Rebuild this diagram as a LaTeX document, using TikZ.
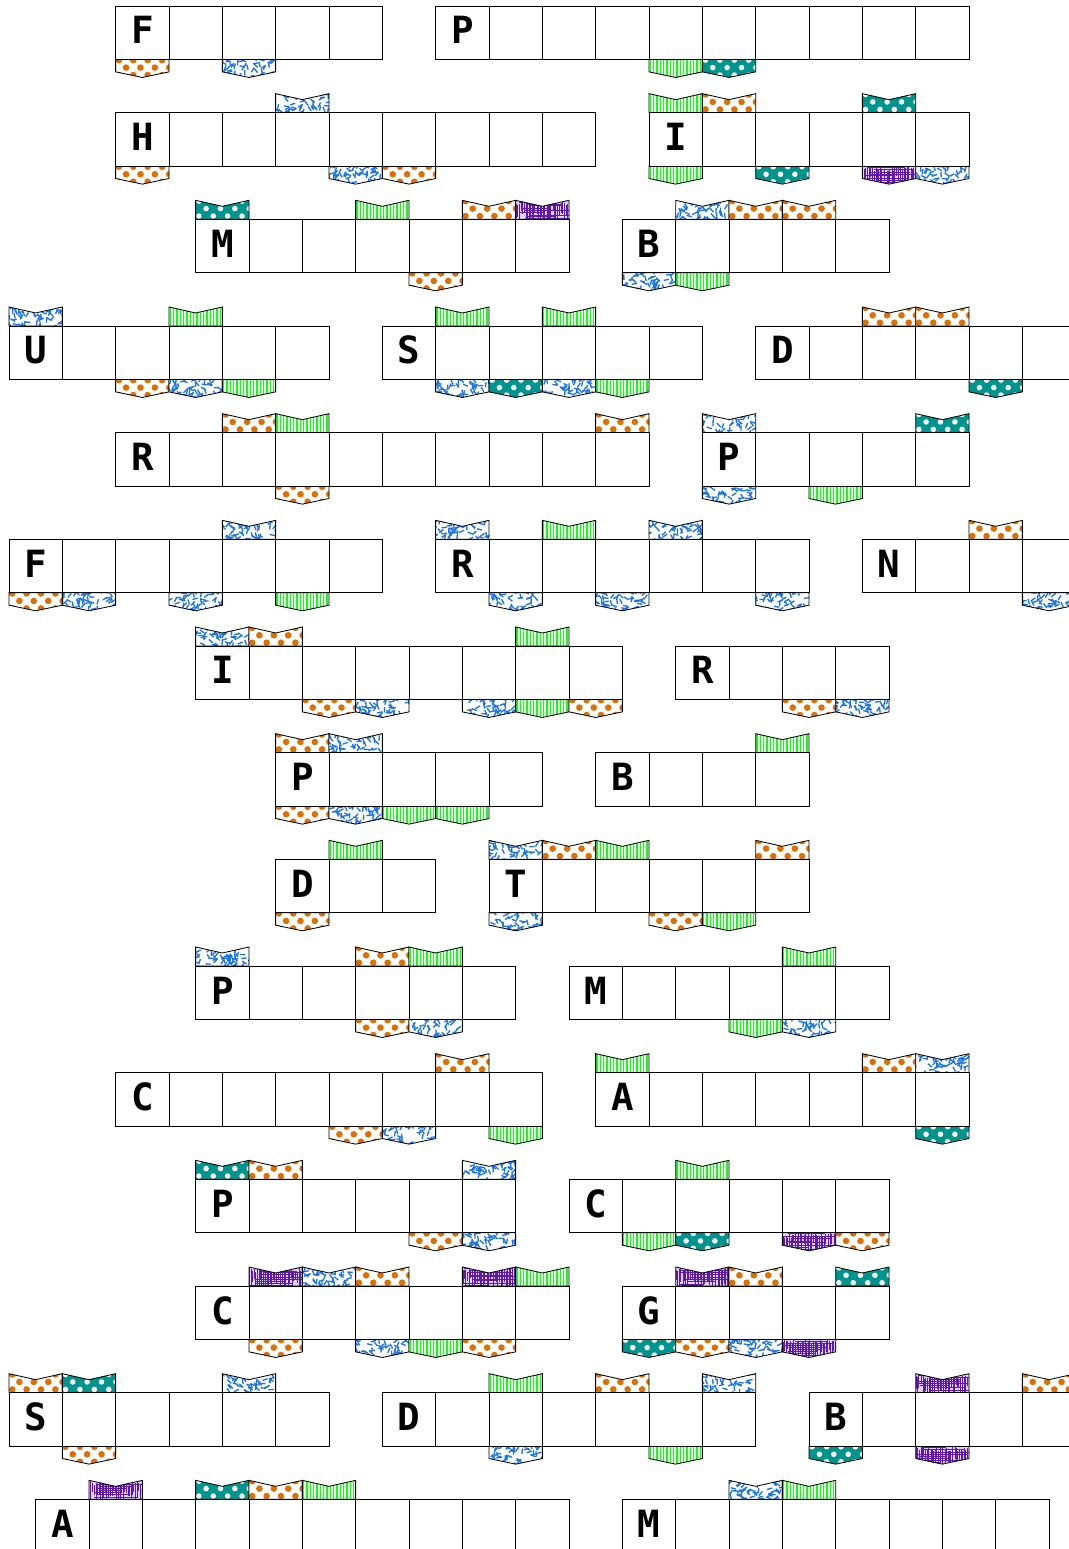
\documentclass[tikz,border=0pt]{standalone}
\usepackage{fontspec}
\newfontfamily\lettfont{DejaVu Sans Mono}
\definecolor{cOrange}{RGB}{222,112,0}
\definecolor{cTeal}{RGB}{0,148,142}
\definecolor{cGreen}{RGB}{40,240,40}
\definecolor{cGreenLt}{RGB}{225,255,225}
\definecolor{cBlue}{RGB}{25,115,230}
\definecolor{cPurple}{RGB}{95,25,170}
\definecolor{cPurpleLt}{RGB}{225,210,245}

\newcommand\patDots[2]{\foreach \j in {0,...,3}{\foreach \i in {0,...,4}{\fill[#1] ([shift={({0.06+\i*0.27+mod(\j,2)*0.135},{-0.015-\j*0.14})}]path picture bounding box.north west) circle (#2);}}}
\newcommand\patBlue{\foreach \i in {1,...,60}{\pgfmathsetmacro\ax{rnd*1.05-0.05}\pgfmathsetmacro\ay{rnd*0.4}\pgfmathsetmacro\aa{rnd*180}\draw[cBlue,line width=0.7pt] ([shift={(\ax,-\ay)}]path picture bounding box.north west) -- ++(\aa:0.1);}}
\newcommand\patPurple{\foreach \i in {0,...,34}{\pgfmathsetmacro\ax{\i*0.03+rnd*0.02}\pgfmathsetmacro\ay{rnd*0.1}\pgfmathsetmacro\al{0.15+rnd*0.3}\draw[cPurple,line width=0.5pt] ([shift={(\ax,-\ay)}]path picture bounding box.north west) -- ++(0,-\al);}%
 \foreach \i in {0,...,9}{\pgfmathsetmacro\ay{0.02+\i*0.04+rnd*0.02}\pgfmathsetmacro\ax{rnd*0.3}\pgfmathsetmacro\al{0.4+rnd*0.6}\draw[cPurple,line width=0.5pt] ([shift={(\ax,-\ay)}]path picture bounding box.north west) -- ++(\al,0);}}
\newcommand\patGreen{\foreach \i in {0,...,16}{\draw[cGreen,line width=0.85pt] ([shift={({0.025+\i*0.0625},0)}]path picture bounding box.north west) -- ++(0,-0.4);}}

\tikzset{
 cell/.style={draw=black, line width=0.5pt, fill=white},
 lett/.style={inner sep=0pt, anchor=base, font=\lettfont\bfseries\fontsize{20}{24}\selectfont},
 flap/.style={draw=black, line width=0.45pt, line join=miter},
 pOrange/.style={fill=white, path picture={\patDots{cOrange}{0.062}}},
 pTeal/.style={fill=cTeal, path picture={\patDots{white}{0.052}}},
 pBlue/.style={fill=white, path picture={\patBlue}},
 pPurple/.style={fill=cPurpleLt, path picture={\patPurple}},
 pGreen/.style={fill=cGreenLt, path picture={\patGreen}},
}

\newcommand\stripcells[5]{%
 \pgfmathsetmacro\sy{-0.1125-2*#1}%
 \foreach \c in {1,...,#3}{\draw[cell] ({#2+\c-1},\sy) rectangle ++(1,-1);}%
 \node[lett] (#5) at ({#2+0.5},{\sy-0.7125}) {#4};}
\newcommand\flapT[3]{%
 \pgfmathsetmacro\sy{-0.1125-2*#1}%
 \draw[flap,#3] (#2,\sy) -- ++(0,0.356) -- ++(0.5,-0.112) -- ++(0.5,0.112) -- ++(0,-0.356) -- cycle;}
\newcommand\flapB[3]{%
 \pgfmathsetmacro\sy{-1.1125-2*#1}%
 \draw[flap,#3] (#2,\sy) -- ++(0,-0.235) -- ++(0.5,-0.105) -- ++(0.5,0.105) -- ++(0,0.235) -- cycle;}

\begin{document}
\begin{tikzpicture}
\useasboundingbox (-0.16875,-29.044) rectangle (19.875,0);
\fill[white] (-0.16875,-29.044) rectangle (19.875,0);
\clip (-0.16875,-29.044) rectangle (19.875,0);
\pgfmathsetseed{7}

% row 0
\flapB{0}{2}{pOrange}\flapB{0}{4}{pBlue}
\stripcells{0}{2}{5}{F}{L0a}
\flapB{0}{12}{pGreen}\flapB{0}{13}{pTeal}
\stripcells{0}{8}{10}{P}{L0b}
% row 1
\flapT{1}{5}{pBlue}\flapB{1}{2}{pOrange}\flapB{1}{6}{pBlue}\flapB{1}{7}{pOrange}
\stripcells{1}{2}{9}{H}{L1a}
\flapT{1}{12}{pGreen}\flapT{1}{13}{pOrange}\flapT{1}{16}{pTeal}
\flapB{1}{12}{pGreen}\flapB{1}{14}{pTeal}\flapB{1}{16}{pPurple}\flapB{1}{17}{pBlue}
\stripcells{1}{12}{6}{I}{L1b}
% row 2
\flapT{2}{3.5}{pTeal}\flapT{2}{6.5}{pGreen}\flapT{2}{8.5}{pOrange}\flapT{2}{9.5}{pPurple}\flapB{2}{7.5}{pOrange}
\stripcells{2}{3.5}{7}{M}{L2a}
\flapT{2}{12.5}{pBlue}\flapT{2}{13.5}{pOrange}\flapT{2}{14.5}{pOrange}\flapB{2}{11.5}{pBlue}\flapB{2}{12.5}{pGreen}
\stripcells{2}{11.5}{5}{B}{L2b}
% row 3
\flapT{3}{0}{pBlue}\flapT{3}{3}{pGreen}\flapB{3}{2}{pOrange}\flapB{3}{3}{pBlue}\flapB{3}{4}{pGreen}
\stripcells{3}{0}{6}{U}{L3a}
\flapT{3}{8}{pGreen}\flapT{3}{10}{pGreen}\flapB{3}{8}{pBlue}\flapB{3}{9}{pTeal}\flapB{3}{10}{pBlue}\flapB{3}{11}{pGreen}
\stripcells{3}{7}{6}{S}{L3b}
\flapT{3}{16}{pOrange}\flapT{3}{17}{pOrange}\flapB{3}{18}{pTeal}
\stripcells{3}{14}{6}{D}{L3c}
% row 4
\flapT{4}{4}{pOrange}\flapT{4}{5}{pGreen}\flapT{4}{11}{pOrange}\flapB{4}{5}{pOrange}
\stripcells{4}{2}{10}{R}{L4a}
\flapT{4}{13}{pBlue}\flapT{4}{17}{pTeal}\flapB{4}{13}{pBlue}\flapB{4}{15}{pGreen}
\stripcells{4}{13}{5}{P}{L4b}
% row 5
\flapT{5}{4}{pBlue}\flapB{5}{0}{pOrange}\flapB{5}{1}{pBlue}\flapB{5}{3}{pBlue}\flapB{5}{5}{pGreen}
\stripcells{5}{0}{7}{F}{L5a}
\flapT{5}{8}{pBlue}\flapT{5}{10}{pGreen}\flapT{5}{12}{pBlue}\flapB{5}{9}{pBlue}\flapB{5}{11}{pBlue}\flapB{5}{14}{pBlue}
\stripcells{5}{8}{7}{R}{L5b}
\flapT{5}{18}{pOrange}\flapB{5}{19}{pBlue}
\stripcells{5}{16}{4}{N}{L5c}
% row 6
\flapT{6}{3.5}{pBlue}\flapT{6}{4.5}{pOrange}\flapT{6}{9.5}{pGreen}
\flapB{6}{5.5}{pOrange}\flapB{6}{6.5}{pBlue}\flapB{6}{8.5}{pBlue}\flapB{6}{9.5}{pGreen}\flapB{6}{10.5}{pOrange}
\stripcells{6}{3.5}{8}{I}{L6a}
\flapB{6}{14.5}{pOrange}\flapB{6}{15.5}{pBlue}
\stripcells{6}{12.5}{4}{R}{L6b}
% row 7
\flapT{7}{5}{pOrange}\flapT{7}{6}{pBlue}\flapB{7}{5}{pOrange}\flapB{7}{6}{pBlue}\flapB{7}{7}{pGreen}\flapB{7}{8}{pGreen}
\stripcells{7}{5}{5}{P}{L7a}
\flapT{7}{14}{pGreen}
\stripcells{7}{11}{4}{B}{L7b}
% row 8
\flapT{8}{6}{pGreen}\flapB{8}{5}{pOrange}
\stripcells{8}{5}{3}{D}{L8a}
\flapT{8}{9}{pBlue}\flapT{8}{10}{pOrange}\flapT{8}{11}{pGreen}\flapT{8}{14}{pOrange}
\flapB{8}{9}{pBlue}\flapB{8}{12}{pOrange}\flapB{8}{13}{pGreen}
\stripcells{8}{9}{6}{T}{L8b}
% row 9
\flapT{9}{3.5}{pBlue}\flapT{9}{6.5}{pOrange}\flapT{9}{7.5}{pGreen}\flapB{9}{6.5}{pOrange}\flapB{9}{7.5}{pBlue}
\stripcells{9}{3.5}{6}{P}{L9a}
\flapT{9}{14.5}{pGreen}\flapB{9}{13.5}{pGreen}\flapB{9}{14.5}{pBlue}
\stripcells{9}{10.5}{6}{M}{L9b}
% row 10
\flapT{10}{8}{pOrange}\flapB{10}{6}{pOrange}\flapB{10}{7}{pBlue}\flapB{10}{9}{pGreen}
\stripcells{10}{2}{8}{C}{L10a}
\flapT{10}{11}{pGreen}\flapT{10}{16}{pOrange}\flapT{10}{17}{pBlue}\flapB{10}{17}{pTeal}
\stripcells{10}{11}{7}{A}{L10b}
% row 11
\flapT{11}{3.5}{pTeal}\flapT{11}{4.5}{pOrange}\flapT{11}{8.5}{pBlue}\flapB{11}{7.5}{pOrange}\flapB{11}{8.5}{pBlue}
\stripcells{11}{3.5}{6}{P}{L11a}
\flapT{11}{12.5}{pGreen}\flapB{11}{11.5}{pGreen}\flapB{11}{12.5}{pTeal}\flapB{11}{14.5}{pPurple}\flapB{11}{15.5}{pOrange}
\stripcells{11}{10.5}{6}{C}{L11b}
% row 12
\flapT{12}{4.5}{pPurple}\flapT{12}{5.5}{pBlue}\flapT{12}{6.5}{pOrange}\flapT{12}{8.5}{pPurple}\flapT{12}{9.5}{pGreen}
\flapB{12}{4.5}{pOrange}\flapB{12}{6.5}{pBlue}\flapB{12}{7.5}{pGreen}\flapB{12}{8.5}{pOrange}
\stripcells{12}{3.5}{7}{C}{L12a}
\flapT{12}{12.5}{pPurple}\flapT{12}{13.5}{pOrange}\flapT{12}{15.5}{pTeal}
\flapB{12}{11.5}{pTeal}\flapB{12}{12.5}{pOrange}\flapB{12}{13.5}{pBlue}\flapB{12}{14.5}{pPurple}
\stripcells{12}{11.5}{5}{G}{L12b}
% row 13
\flapT{13}{0}{pOrange}\flapT{13}{1}{pTeal}\flapT{13}{4}{pBlue}\flapB{13}{1}{pOrange}
\stripcells{13}{0}{6}{S}{L13a}
\flapT{13}{9}{pGreen}\flapT{13}{11}{pOrange}\flapT{13}{13}{pBlue}\flapB{13}{9}{pBlue}\flapB{13}{12}{pGreen}
\stripcells{13}{7}{7}{D}{L13b}
\flapT{13}{17}{pPurple}\flapT{13}{19}{pOrange}\flapB{13}{15}{pTeal}\flapB{13}{17}{pPurple}
\stripcells{13}{15}{5}{B}{L13c}
% row 14
\flapT{14}{1.5}{pPurple}\flapT{14}{3.5}{pTeal}\flapT{14}{4.5}{pOrange}\flapT{14}{5.5}{pGreen}
\stripcells{14}{0.5}{10}{A}{L14a}
\flapT{14}{13.5}{pBlue}\flapT{14}{14.5}{pGreen}
\stripcells{14}{11.5}{8}{M}{L14b}
\end{tikzpicture}
\end{document}
